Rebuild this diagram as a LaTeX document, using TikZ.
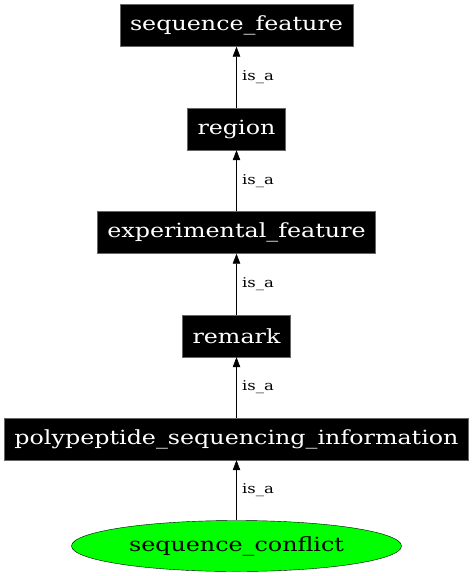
\documentclass[tikz,border=0pt]{standalone}
\usepackage{fontspec}
\setmainfont[FakeStretch=1.22]{DejaVu Serif}
\usetikzlibrary{arrows.meta,positioning,shapes.geometric}

\begin{document}
\begin{tikzpicture}[x=1pt,y=-1pt,
  every node/.style={font=\fontsize{19.5}{23}\selectfont},
  term/.style={fill=black,draw=black!60,text=white,inner xsep=10pt,inner ysep=0pt,minimum height=42pt},
  leaf/.style={ellipse,fill=green,draw=black,inner sep=0pt,minimum width=330pt,minimum height=51pt},
  lbl/.style={font=\fontsize{13.5}{16}\selectfont,right=2pt},
  ar/.style={-{Triangle[length=10pt,width=7.5pt]},line width=0.6pt}]
\useasboundingbox (0,0) rectangle (473,576);
\node[term] (sf) at (236.5,25.5) {sequence\_feature};
\node[term] (rg) at (236.5,129) {region};
\node[term] (ef) at (236.5,232.5) {experimental\_feature};
\node[term] (rm) at (236.5,336) {remark};
\node[term] (ps) at (236.5,439) {polypeptide\_sequencing\_information};
\node[leaf] (sc) at (236.5,546) {sequence\_conflict};
\draw[ar] (rg) -- node[lbl] {is\_a} (sf);
\draw[ar] (ef) -- node[lbl] {is\_a} (rg);
\draw[ar] (rm) -- node[lbl] {is\_a} (ef);
\draw[ar] (ps) -- node[lbl] {is\_a} (rm);
\draw[ar] (sc) -- node[lbl] {is\_a} (ps);
\end{tikzpicture}
\end{document}
